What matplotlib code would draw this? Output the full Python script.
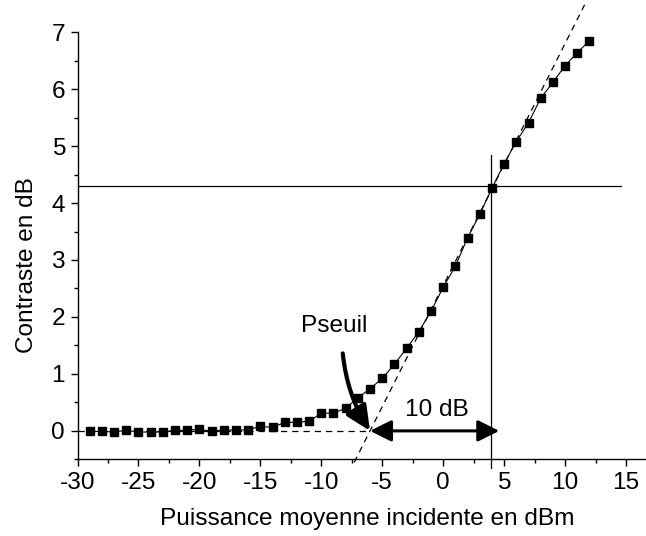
import numpy as np
import matplotlib.pyplot as plt
from matplotlib.patches import FancyArrowPatch

plt.rcParams['font.family'] = ['Liberation Sans', 'DejaVu Sans']
plt.rcParams['axes.unicode_minus'] = False

# ======= mesures =======
puissance = np.arange(-29, 13)
contraste = [-0.01, -0.01, -0.02, 0.01, -0.02, -0.02, -0.02, 0.01, 0.01, 0.03,
             -0.01, 0.02, 0.01, 0.02, 0.08, 0.06, 0.15, 0.15, 0.17, 0.31,
             0.31, 0.40, 0.58, 0.74, 0.92, 1.17, 1.45, 1.74, 2.10, 2.52,
             2.89, 3.39, 3.80, 4.26, 4.69, 5.08, 5.41, 5.84, 6.12, 6.41,
             6.64, 6.85]

p_seuil = -6.0
pente = 0.425
p_ref = 3.9
c_ref = 4.3
p_fin_fleche = 4.6

fs = 17.6

fig = plt.figure(figsize=(6.46, 5.36), dpi=100)
ax = fig.add_axes([0.12, 0.143, 0.88, 0.797])

# asymptotes
ax.plot([-30, p_seuil], [0, 0], color="black", lw=0.9, ls=(0, (5, 4)))
xd = np.array([-7.3, 11.6])
ax.plot(xd, pente * (xd - p_seuil), color="black", lw=0.9, ls=(0, (5, 4)), clip_on=False)

# repères
ax.plot([p_ref, p_ref], [-0.65, 4.85], color="black", lw=0.9, clip_on=False)
ax.plot([-30, 14.57], [c_ref, c_ref], color="black", lw=0.9)

ax.plot(puissance, contraste, color="black", lw=0.8, marker="s", ms=6.2,
        mec="black", mfc="black", zorder=3)

# fleches
fl = FancyArrowPatch((-8.24, 1.36), (p_seuil, 0), connectionstyle="arc3,rad=0.12",
                     arrowstyle="-|>,head_length=1.5,head_width=0.7", mutation_scale=10,
                     color="black", lw=3, shrinkA=0, shrinkB=0, zorder=4)
ax.add_patch(fl)
fl2 = FancyArrowPatch((p_seuil, 0), (p_fin_fleche, 0),
                      arrowstyle="<|-|>,head_length=1.3,head_width=0.65", mutation_scale=10,
                      color="black", lw=2.2, shrinkA=0, shrinkB=0, zorder=4)
ax.add_patch(fl2)

ax.text(-8.92, 1.84, "Pseuil", fontsize=fs, ha="center", va="center")
ax.text(-0.48, 0.37, "10 dB", fontsize=fs, ha="center", va="center")

ax.set_xlim(-30, 16.64)
ax.set_ylim(-0.48, 7)
ax.set_xticks(np.arange(-30, 16, 5))
ax.set_xticks(np.arange(-27.5, 16, 2.5), minor=True)
ax.set_yticks(np.arange(0, 8, 1))
ax.set_yticks(np.arange(-0.5, 7.1, 0.5), minor=True)
ax.spines["top"].set_visible(False)
ax.spines["right"].set_visible(False)
for s in ["left", "bottom"]:
    ax.spines[s].set_linewidth(1.0)
ax.tick_params(which="major", direction="out", length=5, width=1, labelsize=fs, pad=4)
ax.tick_params(which="minor", direction="out", length=3, width=1)

ax.set_xlabel("Puissance moyenne incidente en dBm", fontsize=fs)
ax.set_ylabel("Contraste en dB", fontsize=fs)
ax.xaxis.set_label_coords(0.509, -0.115)
ax.yaxis.set_label_coords(-0.07, 0.455)

plt.savefig("out.png", dpi=100)
